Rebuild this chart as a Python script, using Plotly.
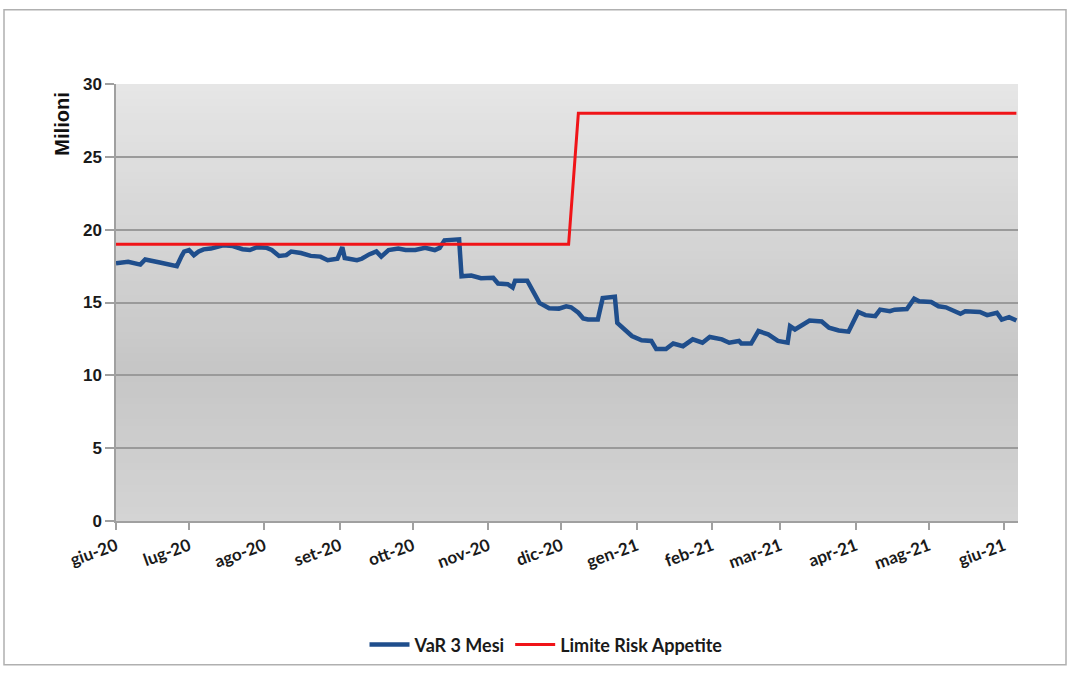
import plotly.graph_objects as go

# ---- data ----
var_dates = [
    "2020-06-01", "2020-06-06", "2020-06-11", "2020-06-13", "2020-06-19", "2020-06-23",
    "2020-06-26", "2020-06-28", "2020-06-29", "2020-07-01", "2020-07-03", "2020-07-05",
    "2020-07-07", "2020-07-10", "2020-07-15", "2020-07-19", "2020-07-23", "2020-07-26",
    "2020-07-29", "2020-08-02", "2020-08-04", "2020-08-07", "2020-08-10", "2020-08-12",
    "2020-08-16", "2020-08-20", "2020-08-24", "2020-08-27", "2020-08-31", "2020-09-02",
    "2020-09-03", "2020-09-08", "2020-09-10", "2020-09-13", "2020-09-16", "2020-09-18",
    "2020-09-21", "2020-09-25", "2020-09-28", "2020-10-02", "2020-10-06", "2020-10-10",
    "2020-10-12", "2020-10-14", "2020-10-17", "2020-10-20", "2020-10-21", "2020-10-25",
    "2020-10-29", "2020-11-03", "2020-11-05", "2020-11-09", "2020-11-11", "2020-11-12",
    "2020-11-17", "2020-11-20", "2020-11-22", "2020-11-26", "2020-11-30", "2020-12-03",
    "2020-12-05", "2020-12-08", "2020-12-10", "2020-12-12", "2020-12-16", "2020-12-18",
    "2020-12-23", "2020-12-24", "2020-12-26", "2020-12-30", "2021-01-03", "2021-01-07",
    "2021-01-09", "2021-01-13", "2021-01-16", "2021-01-20", "2021-01-24", "2021-01-28",
    "2021-01-31", "2021-02-05", "2021-02-08", "2021-02-12", "2021-02-13", "2021-02-17",
    "2021-02-20", "2021-02-24", "2021-02-28", "2021-03-04", "2021-03-05", "2021-03-07",
    "2021-03-13", "2021-03-18", "2021-03-21", "2021-03-25", "2021-03-29", "2021-04-02",
    "2021-04-05", "2021-04-09", "2021-04-11", "2021-04-15", "2021-04-17", "2021-04-22",
    "2021-04-25", "2021-04-27", "2021-05-02", "2021-05-05", "2021-05-08", "2021-05-11",
    "2021-05-14", "2021-05-16", "2021-05-22", "2021-05-25", "2021-05-29", "2021-05-31",
    "2021-06-03", "2021-06-06",
]
var_values = [
    17.7, 17.8, 17.6, 17.95, 17.75, 17.6,
    17.5, 18.2, 18.5, 18.6, 18.25, 18.5,
    18.65, 18.7, 18.93, 18.87, 18.66, 18.6,
    18.8, 18.75, 18.6, 18.2, 18.25, 18.5,
    18.4, 18.2, 18.15, 17.9, 18.0, 18.8,
    18.05, 17.9, 18.0, 18.3, 18.5, 18.15,
    18.6, 18.7, 18.6, 18.6, 18.75, 18.6,
    18.75, 19.27, 19.34, 19.34, 16.8, 16.85,
    16.67, 16.7, 16.3, 16.26, 16.03, 16.5,
    16.5, 15.5, 14.97, 14.6, 14.58, 14.74,
    14.67, 14.3, 13.9, 13.83, 13.83, 15.3,
    15.4, 13.6, 13.27, 12.7, 12.4, 12.36,
    11.8, 11.8, 12.18, 12.0, 12.47, 12.24,
    12.63, 12.47, 12.24, 12.36, 12.18, 12.18,
    13.04, 12.81, 12.36, 12.24, 13.38, 13.15,
    13.76, 13.7, 13.27, 13.08, 13.0, 14.35,
    14.13, 14.06, 14.51, 14.4, 14.51, 14.55,
    15.26, 15.08, 15.03, 14.74, 14.67, 14.45,
    14.22, 14.4, 14.35, 14.13, 14.3, 13.83,
    13.99, 13.76,
]
limit_dates = ["2020-06-01", "2020-12-04", "2020-12-08", "2021-06-06"]
limit_values = [19, 19, 28, 28]

tick_dates = [
    "2020-06-01", "2020-07-01", "2020-08-01", "2020-09-01", "2020-10-01", "2020-11-01",
    "2020-12-01", "2021-01-01", "2021-02-01", "2021-03-01", "2021-04-01", "2021-05-01",
    "2021-06-01",
]
tick_labels = [
    "giu-20", "lug-20", "ago-20", "set-20", "ott-20", "nov-20", "dic-20",
    "gen-21", "feb-21", "mar-21", "apr-21", "mag-21", "giu-21",
]

# ---- figure ----
fig = go.Figure()
fig.add_trace(go.Scatter(
    x=var_dates, y=var_values, mode="lines", name="VaR 3 Mesi",
    line=dict(color="#1F4E8C", width=4.5),
))
fig.add_trace(go.Scatter(
    x=limit_dates, y=limit_values, mode="lines", name="Limite Risk Appetite",
    line=dict(color="#F01418", width=3),
))


def lerp(a, b, t):
    return a + (b - a) * t


# gradient background of plot area (overlapping bands to avoid seams)
shapes = []
n = 60
for i in range(n):
    t = (i + 0.5) / n  # 0 bottom -> 1 top
    if t > 0.35:
        c = lerp(198, 230, (t - 0.35) / 0.65)
    else:
        c = lerp(212, 198, t / 0.35)
    c = int(round(c))
    shapes.append(dict(
        type="rect", xref="paper", yref="paper",
        x0=0, x1=1, y0=i / n, y1=min(1.0, (i + 1.6) / n),
        fillcolor=f"rgb({c},{c},{c})", line=dict(width=0), layer="below",
    ))

W, H = 1071, 675
ml, mr, mt, mb = 116, 53, 84, 150
pw, ph = W - ml - mr, H - mt - mb


def px_x(x):
    return (x - ml) / pw


def px_y(y):
    return (H - mb - y) / ph


# outer chart border
shapes.append(dict(
    type="rect", xref="paper", yref="paper",
    x0=px_x(4), x1=px_x(1066), y0=px_y(670), y1=px_y(9),
    line=dict(color="#B0B0B0", width=1.5), fillcolor="rgba(0,0,0,0)", layer="below",
))

fig.update_layout(
    width=W, height=H,
    margin=dict(l=ml, r=mr, t=mt, b=mb),
    paper_bgcolor="white",
    plot_bgcolor="rgba(0,0,0,0)",
    shapes=shapes,
    showlegend=True,
    legend=dict(
        orientation="h", x=px_x(546), xanchor="center", y=px_y(650), yanchor="middle",
        font=dict(family="Lato", size=18, color="#1a1a1a", weight="bold"),
        itemwidth=40, bgcolor="rgba(0,0,0,0)", traceorder="normal",
    ),
    annotations=[dict(
        text="Milioni", xref="paper", yref="paper", x=px_x(62), y=px_y(125),
        textangle=-90, showarrow=False, xanchor="center", yanchor="middle",
        font=dict(family="Liberation Sans", size=20, color="#111", weight="bold"),
    )],
)

fig.update_xaxes(
    type="date", range=["2020-06-01", "2021-06-06 16:00"],
    tickmode="array", tickvals=tick_dates, ticktext=tick_labels,
    tickangle=-20, ticks="outside", ticklen=7, tickcolor="#A0A0A0", tickwidth=1.5,
    showline=True, linecolor="#A0A0A0", linewidth=1.5,
    showgrid=False, zeroline=False,
    tickfont=dict(family="Lato", size=17, color="#1a1a1a", weight="bold"),
)
fig.update_yaxes(
    range=[0, 30], dtick=5, tick0=0,
    ticks="outside", ticklen=9, tickcolor="#A0A0A0", tickwidth=1.5,
    showline=True, linecolor="#A0A0A0", linewidth=1.5,
    showgrid=True, gridcolor="#9A9A9A", gridwidth=1.5, zeroline=False,
    tickfont=dict(family="Liberation Sans", size=17, color="#1a1a1a", weight="bold"),
)

fig.write_html("out.html")
